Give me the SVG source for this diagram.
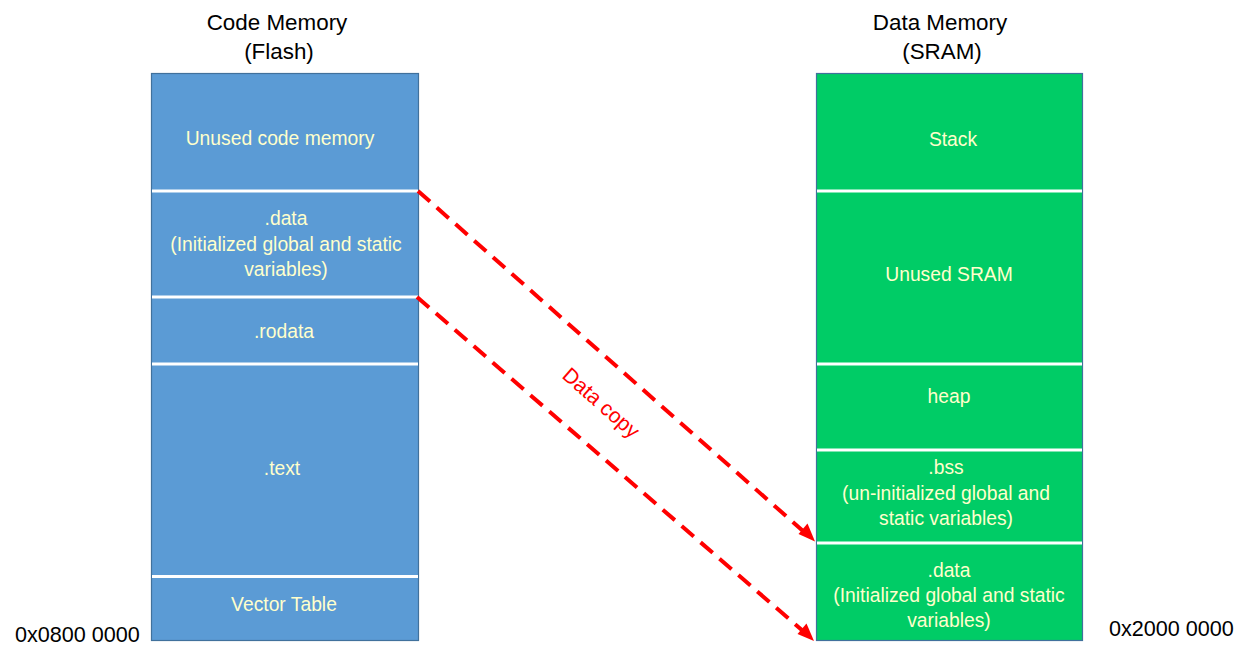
<svg xmlns="http://www.w3.org/2000/svg" width="1249" height="665" viewBox="0 0 1249 665">
<style>
.title{font-family:"Liberation Sans",Arial,sans-serif;font-size:22.4px;fill:#000;text-anchor:middle}
.addr{font-family:"Liberation Sans",Arial,sans-serif;font-size:21.6px;fill:#000}
.lbl{font-family:"Liberation Sans",Arial,sans-serif;font-size:19.3px;fill:#FFFFCC;text-anchor:middle}
.code{fill:#5B9BD5;stroke:#41719C;stroke-width:1.2}
.data{fill:#00CC66;stroke:#41719C;stroke-width:1.2}
.sep{stroke:#FFFFFF;stroke-width:3}
.copy{stroke:#FF0000;stroke-width:4;stroke-dasharray:16 9;fill:none}
.copytxt{font-family:"Liberation Sans",Arial,sans-serif;font-size:21px;fill:#FF0000;text-anchor:middle}
</style>
<rect width="1249" height="665" fill="#FFFFFF"/>
<g id="titles">
<text class="title" x="277" y="30">Code Memory</text>
<text class="title" x="279" y="59">(Flash)</text>
<text class="title" x="940" y="30">Data Memory</text>
<text class="title" x="942" y="59">(SRAM)</text>
<text class="addr" x="15" y="642">0x0800 0000</text>
<text class="addr" x="1109" y="636">0x2000 0000</text>
</g>
<g id="code-memory">
<rect class="code" x="151.5" y="73.5" width="267" height="567"/>
<line class="sep" x1="152" y1="191" x2="418" y2="191"/>
<line class="sep" x1="152" y1="297" x2="418" y2="297"/>
<line class="sep" x1="152" y1="364" x2="418" y2="364"/>
<line class="sep" x1="152" y1="576.5" x2="418" y2="576.5"/>
<g id="unused-code"><text class="lbl" x="280" y="145">Unused code memory</text></g>
<g id="flash-data"><text class="lbl" x="286" y="225">.data</text>
<text class="lbl" x="286" y="251">(Initialized global and static</text>
<text class="lbl" x="286" y="276">variables)</text></g>
<g id="rodata"><text class="lbl" x="284" y="338">.rodata</text></g>
<g id="text"><text class="lbl" x="282" y="475">.text</text></g>
<g id="vector-table"><text class="lbl" x="284" y="611">Vector Table</text></g>
</g>
<g id="data-memory">
<rect class="data" x="816.5" y="73.5" width="266" height="567"/>
<line class="sep" x1="817" y1="191" x2="1082" y2="191"/>
<line class="sep" x1="817" y1="364" x2="1082" y2="364"/>
<line class="sep" x1="817" y1="450" x2="1082" y2="450"/>
<line class="sep" x1="817" y1="543" x2="1082" y2="543"/>
<g id="stack"><text class="lbl" x="953" y="146">Stack</text></g>
<g id="unused-sram"><text class="lbl" x="949" y="281">Unused SRAM</text></g>
<g id="heap"><text class="lbl" x="949" y="403">heap</text></g>
<g id="bss"><text class="lbl" x="946" y="474">.bss</text>
<text class="lbl" x="946" y="500">(un-initialized global and</text>
<text class="lbl" x="946" y="525">static variables)</text></g>
<g id="sram-data"><text class="lbl" x="949" y="577">.data</text>
<text class="lbl" x="949" y="602">(Initialized global and static</text>
<text class="lbl" x="949" y="627">variables)</text></g>
</g>
<g id="connectors">
<line class="copy" x1="418" y1="191" x2="803" y2="531" />
<path d="M815,541.5 L798.5,534 L807.5,523.5 z" fill="#FF0000"/>
<line class="copy" x1="417" y1="297" x2="803" y2="631" />
<path d="M814,641 L797.5,634 L806.5,623.5 z" fill="#FF0000"/>
<text class="copytxt" transform="translate(601,403) rotate(41.5)" x="0" y="7">Data copy</text>
</g>
</svg>
